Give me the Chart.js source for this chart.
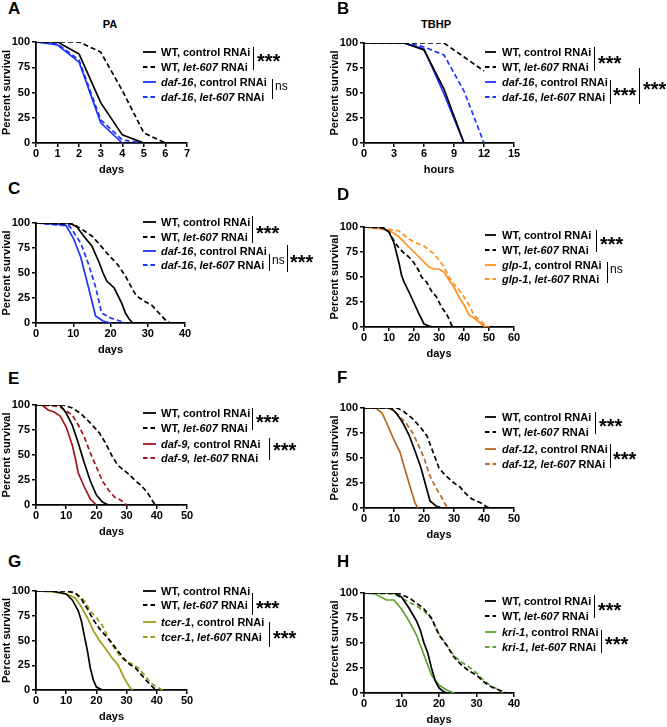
<!DOCTYPE html>
<html>
<head>
<meta charset="utf-8">
<script src="https://cdn.jsdelivr.net/npm/chart.js@4.4.1/dist/chart.umd.min.js"></script>
<style>
  body { margin: 0; background: #fff; }
  #fig { position: relative; width: 667px; height: 727px; overflow: hidden; font-family: 'Liberation Sans', Arial, sans-serif; color: #000; }
  .panel { position: absolute; }
  .letter { position: absolute; font-size: 17px; font-weight: bold; line-height: 17px; }
  .ptitle { position: absolute; font-size: 11px; font-weight: bold; line-height: 12px; transform: translateX(-50%); white-space: nowrap; }
  .lg-row { position: absolute; height: 14px; font-size: 11px; font-weight: bold; line-height: 14px; white-space: nowrap; }
  .lg-row svg { position: absolute; left: 0; top: 0; }
  .lg-row span { position: absolute; top: 0; }
  .brk { position: absolute; width: 0; border-left: 1.5px solid #000; }
  .star { position: absolute; font-size: 20px; font-weight: bold; line-height: 20px; white-space: nowrap; }
  .ns { position: absolute; font-size: 12px; line-height: 12px; }
</style>
</head>
<body>
<div id="fig"></div>
<script>
'use strict';

// curves: [time, percent survival]
// A - PA
const paWtCtrl = [[0, 100], [1, 100], [2, 88], [3, 40], [4, 8], [5, 0]];
const paWtLet = [[0, 100], [2, 100], [3, 90], [4, 52], [5, 10], [6, 0]];
const paDafCtrl = [[0, 100], [1, 97], [2, 80], [3, 20], [4, 0]];
const paDafLet = [[0, 100], [1, 98], [2, 82], [3, 23], [4, 3], [5, 0]];
// B - TBHP (hours)
const tbWtCtrl = [[0, 100], [4, 100], [6, 93], [8, 54], [10, 0]];
const tbWtLet = [[0, 100], [8, 100], [12, 72]];
const tbDafCtrl = [[0, 100], [4, 100], [6, 94], [8, 49], [10, 0]];
const tbDafLet = [[0, 100], [4.5, 100], [6, 96], [8, 88], [10, 52], [12, 0]];
// C
const cWtCtrl = [[0, 100], [9, 100], [11, 96], [13, 86], [15, 77], [17, 60], [18, 50], [19, 42], [21, 35], [23, 20], [24, 10], [25, 4], [26, 0]];
const cWtLet = [[0, 100], [10, 99], [13, 92], [15, 87], [17, 79], [19, 70], [20, 66], [22, 58], [24, 47], [26, 33], [27, 27], [29, 22], [31, 18], [33, 10], [35, 2], [36, 0]];
const cDafCtrl = [[0, 100], [8, 98], [10, 85], [12, 66], [14, 37], [16, 7], [18, 2], [20, 0]];
const cDafLet = [[0, 100], [9, 97], [12, 80], [14, 60], [16, 36], [17.6, 10], [20, 5], [22.5, 2], [24, 0]];
// D
const dWtCtrl = [[0, 100], [7, 100], [10, 95], [12, 84], [14, 64], [15, 52], [16, 45], [18, 35], [20, 24], [22, 13], [24, 3], [26, 1], [28, 0]];
const dWtLet = [[0, 100], [8, 99], [10, 95], [12, 86], [14, 79], [16, 74], [18, 70], [20, 64], [22, 56], [23, 50], [25, 45], [27, 36], [29, 30], [31, 20], [33, 13], [34, 8], [35, 2], [36, 0]];
const dGlpCtrl = [[0, 100], [10, 97], [14, 90], [18, 80], [22, 70], [26, 60], [28, 58], [30, 58], [32, 55], [34, 47], [36, 40], [38, 30], [40, 22], [42, 12], [44, 9], [46, 5], [48, 1], [49, 0]];
const dGlpLet = [[0, 100], [12, 97], [14, 96], [16, 92], [18, 88], [20, 85], [24, 81], [26, 77], [28, 73], [30, 67], [32, 60], [34, 50], [36, 43], [38, 37], [40, 30], [42, 22], [44, 12], [46, 7], [48, 3], [50, 0]];
// E
const eWtCtrl = [[0, 100], [8, 100], [10, 92], [12, 80], [14, 62], [16, 42], [18, 24], [20, 10], [22, 3], [24, 0]];
const eWtLet = [[0, 100], [9, 100], [12, 97], [15, 91], [18, 82], [21, 72], [23, 62], [25, 50], [27, 40], [29, 35], [31, 30], [33, 24], [35, 19], [37, 12], [39, 2], [40, 0]];
const eDafCtrl = [[0, 100], [2, 100], [4, 95], [6, 93], [8, 89], [10, 78], [12, 60], [13, 47], [14, 32], [16, 18], [18, 6], [20, 0]];
const eDafLet = [[0, 100], [6, 99], [8, 98], [10, 94], [12, 90], [14, 80], [16, 68], [18, 52], [20, 38], [22, 24], [24, 15], [26, 8], [28, 5], [30, 0]];
// F
const fWtCtrl = [[0, 100], [9, 100], [11, 94], [13, 85], [15, 73], [17, 57], [19, 40], [21, 18], [22, 7], [24, 2], [26, 0]];
const fWtLet = [[0, 100], [11, 100], [13, 97], [16, 90], [19, 80], [21, 72], [23, 56], [25, 40], [27, 33], [30, 25], [32, 21], [34, 14], [36, 9], [39, 5], [41, 1], [42, 0]];
const fDafCtrl = [[0, 100], [4, 100], [6, 95], [8, 82], [10, 68], [12, 56], [14, 35], [16, 15], [17, 5], [18, 0]];
const fDafLet = [[0, 100], [8, 100], [10, 97], [12, 91], [14, 85], [16, 76], [18, 64], [20, 50], [22, 32], [24, 20], [26, 10], [27, 4], [28, 0]];
// G
const gWtCtrl = [[0, 100], [5, 100], [10, 97], [12, 91], [14, 80], [15, 70], [16, 55], [17, 40], [18, 22], [19, 10], [20, 3], [22, 0]];
const gWtLet = [[0, 100], [10, 100], [13, 98], [15, 92], [17, 82], [19, 71], [21, 62], [23, 55], [25, 48], [27, 40], [29, 32], [31, 26], [33, 22], [35, 15], [37, 8], [39, 2], [40, 0]];
const gTcerCtrl = [[0, 100], [6, 99], [10, 97], [13, 93], [15, 84], [17, 73], [19, 60], [21, 50], [23, 42], [25, 33], [27, 26], [28, 20], [29, 13], [30, 8], [31, 3], [32, 0]];
const gTcerLet = [[0, 100], [12, 99], [14, 96], [16, 90], [18, 80], [20, 73], [22, 65], [24, 52], [26, 42], [28, 33], [30, 29], [32, 26], [34, 22], [36, 15], [38, 7], [40, 3], [42, 0]];
// H
const hWtCtrl = [[0, 100], [8, 100], [10, 96], [12, 85], [14, 72], [15, 63], [16, 50], [17, 40], [18, 25], [19, 12], [20, 5], [21, 2], [22, 0]];
const hWtLet = [[0, 100], [9, 100], [12, 95], [14, 90], [16, 84], [18, 75], [20, 58], [22, 48], [24, 36], [26, 28], [28, 22], [30, 18], [32, 11], [34, 6], [36, 3], [38, 0]];
const hKriCtrl = [[0, 100], [3, 99], [6, 93], [8, 93], [10, 84], [12, 72], [14, 58], [16, 38], [18, 18], [20, 8], [22, 3], [24, 0]];
const hKriLet = [[0, 100], [8, 99], [10, 95], [12, 91], [14, 87], [16, 82], [18, 74], [20, 59], [22, 48], [24, 37], [26, 31], [28, 26], [30, 20], [32, 12], [34, 7], [36, 3], [37, 0]];

// tick labels
const yTicks = [0, 25, 50, 75, 100];
const ticks0to7 = [0, 1, 2, 3, 4, 5, 6, 7];
const ticks0to15 = [0, 3, 6, 9, 12, 15];
const ticks0to40 = [0, 10, 20, 30, 40];
const ticks0to50 = [0, 10, 20, 30, 40, 50];
const ticks0to60 = [0, 10, 20, 30, 40, 50, 60];

// legend labels
const wtLabels = ['WT, control RNAi', 'WT, <i>let-607</i> RNAi'];
const daf16Labels = ['<i>daf-16</i>, control RNAi', '<i>daf-16</i>, <i>let-607</i> RNAi'];
const glp1Labels = ['<i>glp-1</i>, control RNAi', '<i>glp-1</i>, <i>let-607</i> RNAi'];
const daf9Labels = ['<i>daf-9,</i> control RNAi', '<i>daf-9, let-607</i> RNAi'];
const daf12Labels = ['<i>daf-12</i>, control RNAi', '<i>daf-12, let-607</i> RNAi'];
const tcer1Labels = ['<i>tcer-1</i>, control RNAi', '<i>tcer-1</i>, <i>let-607</i> RNAi'];
const kri1Labels = ['<i>kri-1</i>, control RNAi', '<i>kri-1</i>, <i>let-607</i> RNAi'];

const black = '#000000';
const blue = '#1c32ff';
const orange = '#ff8f1f';
const darkRed = '#a5161c';
const brown = '#b7661e';
const olive = '#a09c16';
const green = '#5ea32b';

const FONT = "'Liberation Sans', Arial, sans-serif";

// layout: box = [left, top, right, bottom] of the plot axes
const panels = [
  { letter: 'A', letterPos: [8, 0], title: 'PA', titlePos: [110, 18], xTitle: 'days', xMax: 7, xTicks: ticks0to7,
    box: [36, 42, 187, 143], series: [paWtCtrl, paWtLet, paDafCtrl, paDafLet], colors: [black, black, blue, blue],
    labels: wtLabels.concat(daf16Labels), rows: [52, 67, 82, 97], col: 0,
    brackets: [[253, 47, 70, '***', 257, 57], [272, 79, 99, 'ns', 275, 87]] },
  { letter: 'B', letterPos: [337, 0], title: 'TBHP', titlePos: [436, 18], xTitle: 'hours', xMax: 15, xTicks: ticks0to15,
    box: [364, 43, 514, 143], series: [tbWtCtrl, tbWtLet, tbDafCtrl, tbDafLet], colors: [black, black, blue, blue],
    labels: wtLabels.concat(daf16Labels), rows: [52, 67, 82, 97], col: 1,
    brackets: [[594, 47, 71, '***', 598, 59], [610, 80, 104, '***', 613, 91], [639, 68, 104, '***', 643, 85]] },
  { letter: 'C', letterPos: [8, 180], title: '', xTitle: 'days', xMax: 40, xTicks: ticks0to40,
    box: [36, 223, 185, 323], series: [cWtCtrl, cWtLet, cDafCtrl, cDafLet], colors: [black, black, blue, blue],
    labels: wtLabels.concat(daf16Labels), rows: [222, 237, 251, 265], col: 0,
    brackets: [[252, 216, 243, '***', 256, 229], [269, 254, 271, 'ns', 272, 261], [287, 245, 272, '***', 290, 258]] },
  { letter: 'D', letterPos: [337, 186], title: '', xTitle: 'days', xMax: 60, xTicks: ticks0to60,
    box: [364, 227, 514, 327], series: [dWtCtrl, dWtLet, dGlpCtrl, dGlpLet], colors: [black, black, orange, orange],
    labels: wtLabels.concat(glp1Labels), rows: [235, 250, 265, 279], col: 1,
    brackets: [[596, 230, 252, '***', 600, 240], [607, 262, 283, 'ns', 610, 270]] },
  { letter: 'E', letterPos: [8, 370], title: '', xTitle: 'days', xMax: 50, xTicks: ticks0to50,
    box: [36, 405, 187, 505], series: [eWtCtrl, eWtLet, eDafCtrl, eDafLet], colors: [black, black, darkRed, darkRed],
    labels: wtLabels.concat(daf9Labels), rows: [413, 428, 444, 458], col: 0,
    brackets: [[252, 408, 430, '***', 256, 418], [269, 438, 460, '***', 273, 446]] },
  { letter: 'F', letterPos: [337, 369], title: '', xTitle: 'days', xMax: 50, xTicks: ticks0to50,
    box: [364, 408, 514, 508], series: [fWtCtrl, fWtLet, fDafCtrl, fDafLet], colors: [black, black, brown, brown],
    labels: wtLabels.concat(daf12Labels), rows: [417, 432, 449, 464], col: 1,
    brackets: [[595, 412, 434, '***', 599, 422], [610, 444, 468, '***', 613, 455]] },
  { letter: 'G', letterPos: [8, 553], title: '', xTitle: 'days', xMax: 50, xTicks: ticks0to50,
    box: [36, 591, 187, 690], series: [gWtCtrl, gWtLet, gTcerCtrl, gTcerLet], colors: [black, black, olive, olive],
    labels: wtLabels.concat(tcer1Labels), rows: [591, 605, 622, 637], col: 0,
    brackets: [[252, 593, 615, '***', 256, 604], [269, 622, 647, '***', 273, 634]] },
  { letter: 'H', letterPos: [337, 553], title: '', xTitle: 'days', xMax: 40, xTicks: ticks0to40,
    box: [364, 593, 514, 693], series: [hWtCtrl, hWtLet, hKriCtrl, hKriLet], colors: [black, black, green, green],
    labels: wtLabels.concat(kri1Labels), rows: [601, 616, 632, 647], col: 1,
    brackets: [[594, 595, 618, '***', 598, 606], [601, 630, 653, '***', 605, 640]] }
];

const Y_W = 36;
const X_H = 36;
const PAD_T = 10;
const PAD_R = 10;

const fig = document.getElementById('fig');

const addDiv = function(cls, left, top, html) {
  const d = document.createElement('div');
  d.className = cls;
  d.style.left = left + 'px';
  d.style.top = top + 'px';
  if (html !== undefined) d.innerHTML = html;
  fig.appendChild(d);
  return d;
};

const makeChart = function(p) {
  const [l, t, r, b] = p.box;
  const w = r - l + Y_W + PAD_R;
  const h = b - t + PAD_T + X_H;
  const wrap = addDiv('panel', l - Y_W, t - PAD_T);
  const canvas = document.createElement('canvas');
  canvas.width = w;
  canvas.height = h;
  wrap.appendChild(canvas);

  const tickFont = { family: FONT, size: 11, weight: 'bold' };
  const gridCfg = { drawOnChartArea: false, drawTicks: true, tickLength: 4, color: '#000', lineWidth: 1.5 };

  new Chart(canvas, {
    type: 'line',
    data: {
      datasets: p.series.map(function(s, i) {
        return {
          data: s.map(function(pt) { return { x: pt[0], y: pt[1] }; }),
          borderColor: p.colors[i],
          borderWidth: 1.7,
          borderDash: i % 2 ? [5, 3] : [],
          pointRadius: 0,
          tension: 0,
          fill: false
        };
      })
    },
    options: {
      responsive: false,
      animation: false,
      layout: { padding: { top: PAD_T, right: PAD_R, left: 0, bottom: 0 } },
      plugins: { legend: { display: false }, tooltip: { enabled: false } },
      scales: {
        x: {
          type: 'linear', min: 0, max: p.xMax,
          afterBuildTicks: function(s) { s.ticks = p.xTicks.map(function(v) { return { value: v }; }); },
          ticks: { color: '#000', font: tickFont, padding: 0, maxRotation: 0 },
          grid: gridCfg,
          border: { color: '#000', width: 1.8 },
          title: { display: true, text: p.xTitle, color: '#000', font: tickFont, padding: { top: 0, bottom: 2 } },
          afterFit: function(s) { s.height = X_H; }
        },
        y: {
          type: 'linear', min: 0, max: 100,
          afterBuildTicks: function(s) { s.ticks = yTicks.map(function(v) { return { value: v }; }); },
          ticks: { color: '#000', font: tickFont, padding: 2 },
          grid: gridCfg,
          border: { color: '#000', width: 1.8 },
          title: { display: true, text: 'Percent survival', color: '#000', font: tickFont, padding: { top: 0, bottom: 0 } },
          afterFit: function(s) { s.width = Y_W; }
        }
      }
    }
  });
};

const makeLegend = function(p) {
  const sampleX = p.col === 0 ? 143 : 485;
  const sampleW = p.col === 0 ? 13 : 11;
  const textX = p.col === 0 ? 161 : 502;
  p.labels.forEach(function(lab, i) {
    const row = addDiv('lg-row', sampleX, p.rows[i] - 7);
    const dash = i % 2 ? ' stroke-dasharray="4.5 3"' : '';
    row.innerHTML = '<svg width="' + sampleW + '" height="14"><line x1="0" y1="7" x2="' + sampleW +
      '" y2="7" stroke="' + p.colors[i] + '" stroke-width="1.8"' + dash + '/></svg>' +
      '<span style="left:' + (textX - sampleX) + 'px">' + lab + '</span>';
  });
  p.brackets.forEach(function(bk) {
    const line = addDiv('brk', bk[0], bk[1]);
    line.style.height = (bk[2] - bk[1]) + 'px';
    if (bk[3] === 'ns') {
      addDiv('ns', bk[4], bk[5] - 7, 'ns');
    } else {
      addDiv('star', bk[4], bk[5] - 6, bk[3]);
    }
  });
};

const init = function() {
  Chart.defaults.font.family = FONT;
  for (const p of panels) {
    addDiv('letter', p.letterPos[0], p.letterPos[1], p.letter);
    if (p.title) {
      addDiv('ptitle', p.titlePos[0], p.titlePos[1], p.title);
    }
    makeChart(p);
    makeLegend(p);
  }
};

document.addEventListener('DOMContentLoaded', function() {
  init();
});
</script>
</body>
</html>
